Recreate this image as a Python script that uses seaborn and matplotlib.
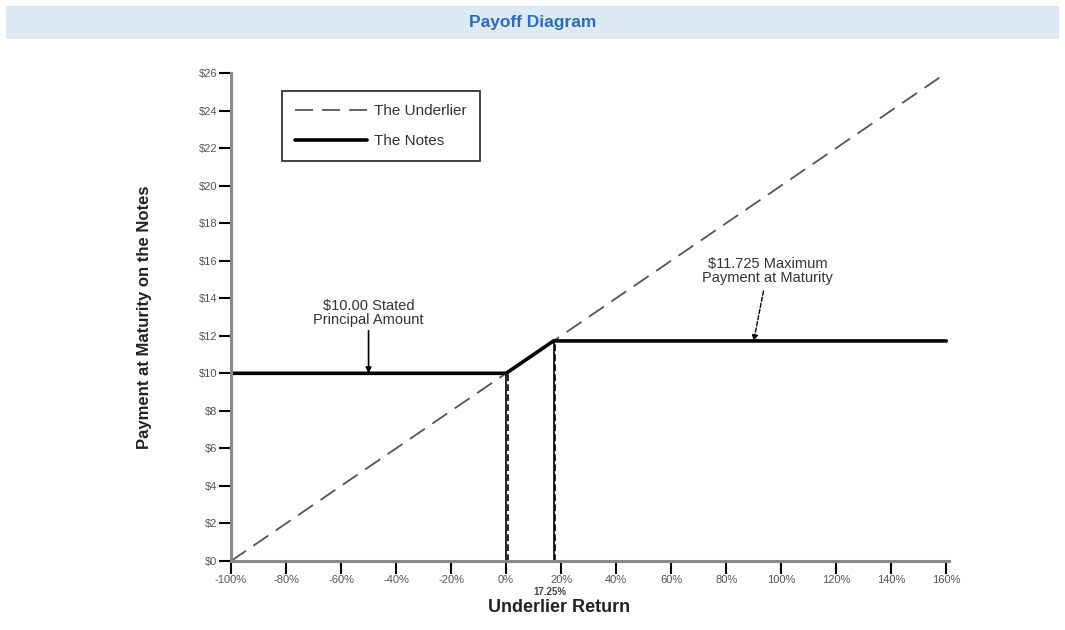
import matplotlib
matplotlib.use("Agg")
import matplotlib.pyplot as plt
import matplotlib.transforms as mtransforms
from matplotlib.patches import Rectangle
import seaborn as sns
import pandas as pd

sns.set_theme(style="white")
plt.rcParams['font.family'] = ['Liberation Sans', 'DejaVu Sans']

# ---- data ----
underlier_x = [-100, 160]
underlier_y = [0, 26]
notes_x = [-100, 0, 17.25, 160]
notes_y = [10.0, 10.0, 11.725, 11.725]
marker_x = [0, 17.25]
marker_y = [10.0, 11.725]
x_ticks = [-100, -80, -60, -40, -20, 0, 20, 40, 60, 80, 100, 120, 140, 160]
x_tick_labels = ["-100%", "-80%", "-60%", "-40%", "-20%", "0%", "20%", "40%",
                 "60%", "80%", "100%", "120%", "140%", "160%"]
y_ticks = list(range(0, 27, 2))
y_tick_labels = ["$" + str(v) for v in y_ticks]
principal_point = (-50, 10.0)
max_point = (90, 11.725)

df_u = pd.DataFrame({"x": underlier_x, "y": underlier_y})
df_n = pd.DataFrame({"x": notes_x, "y": notes_y})

fig = plt.figure(figsize=(10.65, 6.3), dpi=100)
ax = fig.add_axes([231 / 1065, 1 - 561 / 630, (949 - 231) / 1065, (561 - 73) / 630])

# title band
fig.patches.append(Rectangle((6 / 1065, 1 - 39 / 630), 1053 / 1065, 33 / 630,
                             transform=fig.transFigure, facecolor="#dde9f3",
                             edgecolor="none", zorder=0))
fig.text(0.5, 1 - 22 / 630, "Payoff Diagram", ha="center", va="center",
         fontsize=12.5, fontweight="bold", color="#2b6cc4")

sns.lineplot(data=df_u, x="x", y="y", ax=ax, color="#555555", lw=1.3,
             linestyle=(0, (10, 5)), label="The Underlier")
sns.lineplot(data=df_n, x="x", y="y", ax=ax, color="black", lw=2.6,
             label="The Notes")

off = mtransforms.offset_copy(ax.transData, fig=fig, x=1.5, y=0, units="dots")
for mx, my in zip(marker_x, marker_y):
    ax.plot([mx, mx], [0, my], color="black", lw=1.2, zorder=1)
    ax.plot([mx, mx], [0, my], color="black", lw=1.2, linestyle=(0, (4, 2)),
            transform=off, zorder=1)

ax.set_xlim(-100, 161)
ax.set_ylim(0, 26)
ax.set_xticks(x_ticks)
ax.set_xticklabels(x_tick_labels)
ax.set_yticks(y_ticks)
ax.set_yticklabels(y_tick_labels)
ax.tick_params(axis="both", which="major", length=9, width=1.5, color="black",
               labelsize=8, labelcolor="#555555", direction="out", pad=1,
               bottom=True, left=True)

for s in ["top", "right"]:
    ax.spines[s].set_visible(False)
for s in ["left", "bottom"]:
    ax.spines[s].set_color("#8a8a8a")
    ax.spines[s].set_linewidth(2.2)

ax.set_xlabel("Underlier Return", fontsize=13, fontweight="bold",
              color="#222222")
ax.xaxis.set_label_coords((559 - 231) / 718, -(608 - 561) / 488)
ax.xaxis.label.set_va("center")
ax.set_ylabel("Payment at Maturity on the Notes", fontsize=12,
              fontweight="bold", color="#222222")
ax.yaxis.set_label_coords(-(231 - 145) / 718, 0.5)
ax.yaxis.label.set_va("center")

ax.annotate("17.25%", xy=(17.25, 0), xycoords=("data", "axes fraction"),
            xytext=(-3, -22), textcoords="offset points", ha="center",
            va="center", fontsize=7, fontweight="bold", color="#444444")

ax.annotate("$10.00 Stated\nPrincipal Amount", xy=principal_point,
            xytext=(principal_point[0], 12.45), ha="center", va="bottom",
            fontsize=10.5, color="#333333", linespacing=1.0,
            arrowprops=dict(arrowstyle="-|>", color="black", lw=1.2,
                            mutation_scale=8, shrinkA=0, shrinkB=0))
ax.annotate("$11.725 Maximum\nPayment at Maturity", xy=max_point,
            xytext=(95, 14.7), ha="center", va="bottom",
            fontsize=10.5, color="#333333", linespacing=1.0,
            arrowprops=dict(arrowstyle="-|>", color="black", lw=1.0,
                            linestyle=(0, (3, 1.5)),
                            mutation_scale=8, shrinkA=2, shrinkB=0))

leg = ax.legend(loc="upper left", bbox_to_anchor=(51 / 718, 1 - 18 / 488),
                frameon=True, fancybox=False, fontsize=11, handlelength=4.7,
                borderpad=0.85, labelspacing=1.05, handletextpad=0.5,
                borderaxespad=0)
leg.get_frame().set_edgecolor("black")
leg.get_frame().set_linewidth(1.3)
for t in leg.get_texts():
    t.set_color("#333333")

fig.savefig("out.png", dpi=100)
